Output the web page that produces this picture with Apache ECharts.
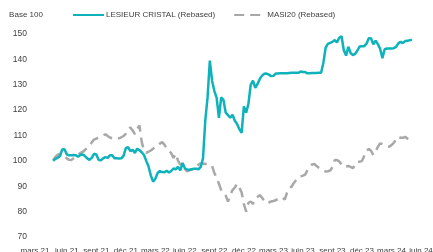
<!DOCTYPE html>
<html>
<head>
<meta charset="utf-8">
<script src="https://cdn.jsdelivr.net/npm/echarts@6/dist/echarts.min.js"></script>
<style>
html, body { margin: 0; padding: 0; background: #fff; }
#chart { width: 433px; height: 252px; }
</style>
</head>
<body>
<div id="chart"></div>
<script>
// weekly categories, starting monday 2021-03-01
var startYear = 2021, startMonth = 2, startDay = 1;
var weekCount = 171;
var firstDataWeek = 8;

var tickLabels = ['mars 21', 'juin 21', 'sept 21', 'déc 21',
  'mars 22', 'juin 22', 'sept 22', 'déc 22',
  'mars 23', 'juin 23', 'sept 23', 'déc 23',
  'mars 24', 'juin 24'];

var seriesNames = ['LESIEUR CRISTAL (Rebased)', 'MASI20 (Rebased)'];

var lesieur = [
  100, 100.8, 101.2, 101.9, 104.5, 104.6, 102.6, 102.2, 102.2, 102.3,
  102.2, 101.6, 102.4, 102.5, 101.9, 101.0, 100.4, 101.2, 102.8, 102.5,
  100.4, 100.2, 101.0, 101.5, 101.2, 102.2, 102.2, 101.0, 101.0, 100.9,
  101.0, 102.0, 105.0, 105.4, 103.8, 104.4, 103.1, 104.8, 104.2, 103.4,
  102.3, 100.0, 97.8, 94.3, 91.8, 93.0, 95.2, 96.0, 95.6, 95.5,
  96.1, 95.4, 96.0, 97.0, 96.7, 97.6, 96.3, 99.2, 97.1, 96.6,
  96.5, 96.7, 96.9, 96.9, 96.7, 97.6, 101.0, 116.0, 125.0, 139.5,
  131.5, 127.5, 124.8, 117.0, 125.0, 124.0, 119.0, 118.0, 117.0, 118.2,
  115.8, 114.5, 112.5, 111.0, 121.5, 119.0, 122.5, 130.0, 131.6, 128.8,
  130.3, 132.3, 133.6, 134.3, 134.4, 134.0, 133.4, 133.5, 134.4, 134.4,
  134.5, 134.5, 134.5, 134.5, 134.6, 134.7, 134.7, 134.7, 134.7, 135.2,
  135.0, 135.0, 134.5, 134.5, 134.6, 134.6, 134.6, 134.7, 134.7, 138.6,
  144.6, 146.1, 146.5, 146.9, 147.6, 146.7, 148.5, 149.1, 143.6, 141.5,
  145.0, 142.5, 141.7, 142.2, 143.5, 145.1, 145.2, 145.2, 146.2, 148.3,
  148.3, 145.9, 147.4, 146.0, 144.2, 140.5, 144.0, 144.3, 144.3, 144.3,
  144.4, 144.9, 146.3, 146.9, 146.4, 147.2, 147.3, 147.5, 147.8
];

var masi = [
  100.3, 101.6, 102.4, 102.7, 102.4, 101.8, 101.0, 100.4, 100.3, 101.0,
  101.8, 102.5, 103.1, 103.5, 104.3, 105.1, 106.0, 107.3, 108.4, 108.8,
  109.2, 109.6, 110.0, 110.5, 109.8, 109.2, 108.9, 109.2, 109.0, 108.9,
  109.3, 109.8, 110.7, 112.5, 113.2, 112.0, 110.5, 112.5, 114.0, 107.5,
  104.2, 103.2, 103.6, 104.1, 104.8, 105.6, 106.0, 106.8, 107.4, 106.4,
  105.0, 104.0, 103.0, 101.2, 102.8, 100.0, 98.5, 99.0, 96.8, 95.8,
  96.3, 96.6, 96.9, 97.5, 98.5, 99.0, 99.0, 98.8, 98.7, 98.5,
  98.0, 95.2, 93.5, 91.0, 88.5, 87.2, 86.3, 84.0, 86.5, 88.5,
  89.5, 91.0, 89.5, 87.5, 83.0, 80.0, 83.5, 84.0, 83.0, 85.2,
  85.8, 86.5, 85.5, 84.2, 83.3, 83.6, 84.0, 84.2, 84.5, 85.0,
  85.5, 85.6, 84.7, 87.5, 89.4, 89.8, 91.3, 92.5, 93.7, 93.9,
  94.2, 94.6, 96.4, 97.6, 98.6, 98.8, 98.0, 97.3, 96.8, 96.2,
  95.8, 95.9, 96.2, 97.5, 100.3, 100.3, 99.8, 98.6, 97.6, 97.8,
  98.0, 97.6, 97.1, 98.5, 99.7, 99.7, 99.9, 102.0, 104.1, 104.7,
  104.0, 102.3, 103.8, 105.5, 106.9, 106.6, 106.2, 105.8, 105.6, 106.2,
  107.1, 108.3, 109.5, 109.1, 109.1, 109.5, 108.8, 108.2, 108.0
];

var categories = [];
for (var i = 0; i < weekCount; i++) {
  var d = new Date(Date.UTC(startYear, startMonth, startDay + 7 * i));
  categories.push(d.toISOString().slice(0, 10));
}

function pad(values) {
  var out = [];
  for (var i = 0; i < weekCount; i++) {
    var k = i - firstDataWeek;
    out.push(k >= 0 && k < values.length ? values[k] : null);
  }
  return out;
}

var font = 'Liberation Sans';
var textColor = '#404040';

var myChart = echarts.init(document.getElementById('chart'));
var option = {
  backgroundColor: '#fff',
  animation: false,
  grid: { left: 35, right: 12, top: 34, bottom: 15, containLabel: false, outerBoundsMode: 'none' },
  legend: {
    left: 72,
    top: 11,
    padding: 0,
    itemWidth: 31,
    itemHeight: 10,
    itemGap: 18,
    selectedMode: false,
    itemStyle: { opacity: 0 },
    textStyle: { fontFamily: font, fontSize: 8, color: textColor, padding: [0, 0, 0, -3] },
    data: seriesNames
  },
  xAxis: {
    type: 'category',
    data: categories,
    boundaryGap: false,
    axisLine: { show: false },
    axisTick: { show: false },
    splitLine: { show: false },
    axisLabel: {
      margin: 10,
      fontFamily: font,
      fontSize: 8,
      color: textColor,
      interval: function (index, value) {
        var m = +value.slice(5, 7), day = +value.slice(8, 10);
        return day <= 7 && m % 3 === 0;
      },
      formatter: function (value) {
        var y = +value.slice(0, 4), m = +value.slice(5, 7);
        return tickLabels[(y - 2021) * 4 + (m - 3) / 3];
      }
    }
  },
  yAxis: {
    type: 'value',
    min: 70,
    max: 150,
    interval: 10,
    name: 'Base 100',
    nameGap: 15,
    nameTextStyle: { fontFamily: font, fontSize: 8, color: textColor, align: 'center', padding: [0, 0, 0, -18] },
    axisLine: { show: false },
    axisTick: { show: false },
    splitLine: { show: false },
    axisLabel: { margin: 8, fontFamily: font, fontSize: 8.5, color: textColor }
  },
  series: [{
    name: seriesNames[0],
    type: 'line',
    data: pad(lesieur),
    symbol: 'none',
    z: 3,
    lineStyle: { color: '#0db2bb', width: 2.5 },
    itemStyle: { color: '#0db2bb' }
  }, {
    name: seriesNames[1],
    type: 'line',
    data: pad(masi),
    symbol: 'none',
    z: 2,
    lineStyle: { color: '#a8a8a8', width: 2.5, type: [10, 6] },
    itemStyle: { color: '#a8a8a8' }
  }]
};
myChart.setOption(option);
</script>
</body>
</html>
